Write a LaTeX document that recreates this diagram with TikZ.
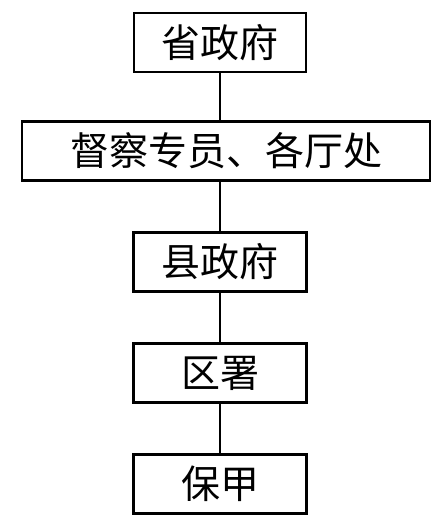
\documentclass[tikz,border=0pt]{standalone}
\usepackage{fontspec}
\newfontfamily\cjk{Noto Sans CJK SC}

\begin{document}
\begin{tikzpicture}[
    x=1pt, y=-1pt,
    org/.style={draw, line width=2.6pt, inner sep=0pt, minimum height=59pt, font=\cjk\fontsize{39}{42}\selectfont},
    link/.style={line width=2pt}
    ]
    \useasboundingbox (0,0) rectangle (443,521);
    \node[org, minimum width=172pt] (prov) at (220,42.5) {省政府};
    \node[org, minimum width=408pt] (super) at (226,151) {督察专员、各厅处};
    \node[org, minimum width=173pt] (county) at (220,262) {县政府};
    \node[org, minimum width=173pt] (district) at (220,373) {区署};
    \node[org, minimum width=173pt] (baojia) at (220,484) {保甲};

    \draw[link] (prov.south) -- (prov.south |- super.north);
    \draw[link] (prov.south |- super.south) -- (county.north);
    \draw[link] (county) -- (district);
    \draw[link] (district) -- (baojia);
  \end{tikzpicture}
\end{document}
